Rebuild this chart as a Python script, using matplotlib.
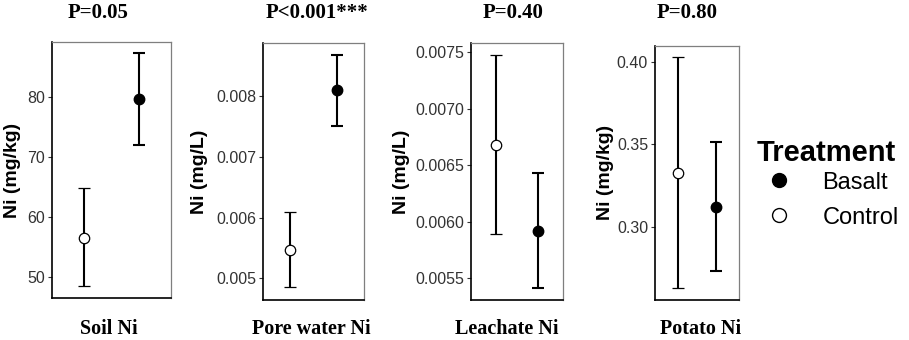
import matplotlib
matplotlib.use("Agg")
import matplotlib.pyplot as plt
from matplotlib.lines import Line2D

# ---- data ----
panels = ["Soil Ni", "Pore water Ni", "Leachate Ni", "Potato Ni"]
ylabels = ["Ni (mg/kg)", "Ni (mg/L)", "Ni (mg/L)", "Ni (mg/kg)"]
p_labels = ["P=0.05", "P<0.001***", "P=0.40", "P=0.80"]

control_mean = [56.5, 0.005467, 0.006682, 0.3329]
control_low = [48.45, 0.00485, 0.00589, 0.2632]
control_high = [64.7, 0.006095, 0.00748, 0.4028]

basalt_mean = [79.6, 0.00810, 0.00592, 0.3121]
basalt_low = [71.9, 0.007516, 0.005411, 0.2731]
basalt_high = [87.3, 0.008677, 0.006431, 0.3513]

ylims = [(46.45, 89.1), (0.004642, 0.008882), (0.005308, 0.007583), (0.2560, 0.4095)]
yticks = [[50, 60, 70, 80],
          [0.005, 0.006, 0.007, 0.008],
          [0.0055, 0.0060, 0.0065, 0.0070, 0.0075],
          [0.30, 0.35, 0.40]]
yticklabels = [["50", "60", "70", "80"],
               ["0.005", "0.006", "0.007", "0.008"],
               ["0.0055", "0.0060", "0.0065", "0.0070", "0.0075"],
               ["0.30", "0.35", "0.40"]]
legend_title = "Treatment"
legend_labels = ["Basalt", "Control"]

# ---- layout (pixels) ----
W, H = 909, 340
boxes = [(52, 42, 171, 298), (263, 43, 364, 300), (471, 43, 563, 300), (655, 46, 739, 299.5)]
title_x = [98, 317, 513, 687]
xlab_x = [108.5, 311, 507, 701]
ylab_x = [13, 200, 402, 605]

fig = plt.figure(figsize=(W / 100, H / 100), dpi=100)
serif = ["Liberation Serif", "DejaVu Serif"]
sans = ["Liberation Sans", "DejaVu Sans"]

pos_c, pos_b = -0.23, 0.23
for i in range(4):
    x0, y0, x1, y1 = boxes[i]
    ax = fig.add_axes([x0 / W, 1 - y1 / H, (x1 - x0) / W, (y1 - y0) / H])
    # control
    ax.errorbar([pos_c], [control_mean[i]],
                yerr=[[control_mean[i] - control_low[i]], [control_high[i] - control_mean[i]]],
                fmt="o", color="black", mfc="white", mec="black", ms=7.5, mew=0.9,
                elinewidth=1.5, capsize=4.5, capthick=1.5, zorder=3)
    # basalt
    ax.errorbar([pos_b], [basalt_mean[i]],
                yerr=[[basalt_mean[i] - basalt_low[i]], [basalt_high[i] - basalt_mean[i]]],
                fmt="o", color="black", mfc="black", mec="black", ms=7.5,
                elinewidth=1.5, capsize=4.5, capthick=1.5, zorder=3)
    ax.set_xlim(-0.5, 0.5)
    ax.set_ylim(*ylims[i])
    ax.set_yticks(yticks[i])
    ax.set_yticklabels(yticklabels[i], fontfamily=sans, fontsize=11.5, color="#333333")
    ax.set_xticks([])
    ax.tick_params(axis="y", length=3, width=0.8, color="#333333", pad=2)
    for s in ["top", "right"]:
        ax.spines[s].set_color("#7f7f7f")
        ax.spines[s].set_linewidth(0.9)
    for s in ["left", "bottom"]:
        ax.spines[s].set_color("black")
        ax.spines[s].set_linewidth(1.2)

    fig.text(title_x[i] / W, 1 - 12.5 / H, p_labels[i], ha="center", va="center",
             fontfamily=serif, fontweight="bold", fontsize=15)
    fig.text(xlab_x[i] / W, 1 - 329 / H, panels[i], ha="center", va="center",
             fontfamily=serif, fontweight="bold", fontsize=14.5)
    fig.text(ylab_x[i] / W, 1 - ((y0 + y1) / 2) / H, ylabels[i], ha="center", va="center",
             rotation=90, fontfamily=sans, fontweight="bold", fontsize=14)

# legend
fig.text(757 / W, 1 - 153 / H, legend_title, ha="left", va="center",
         fontfamily=sans, fontweight="bold", fontsize=21)
handles = [Line2D([], [], ls="none", marker="o", ms=10, mfc="black", mec="black"),
           Line2D([], [], ls="none", marker="o", ms=10, mfc="white", mec="black", mew=1.0)]
leg = fig.legend(handles, legend_labels, loc="upper left",
                 bbox_to_anchor=(751 / W, 1 - 167 / H), frameon=False,
                 prop={"family": sans, "size": 17}, labelspacing=0.55,
                 handletextpad=0.83, handlelength=2.0, borderpad=0.2,
                 borderaxespad=0)

fig.savefig("out.png", dpi=100)
